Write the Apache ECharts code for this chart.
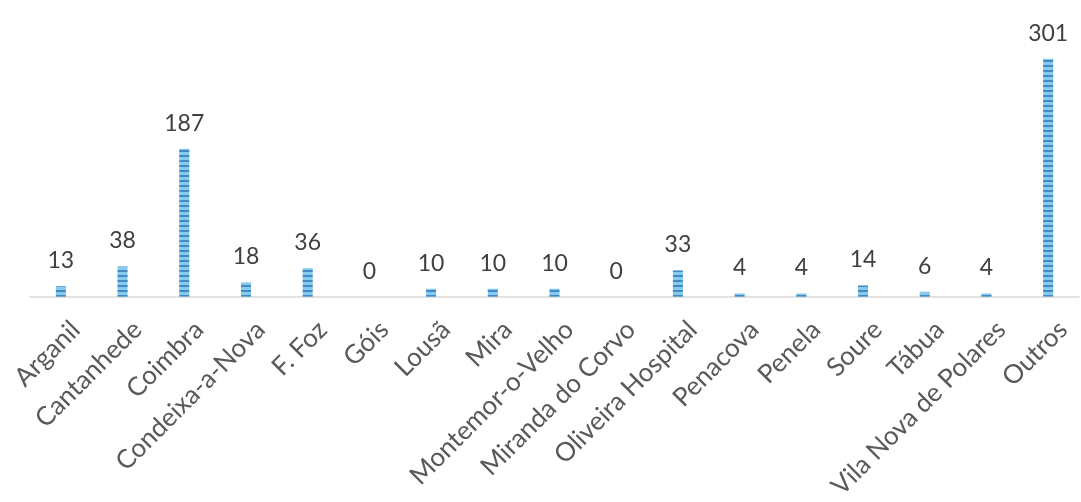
<!DOCTYPE html>
<html>
<head>
<meta charset="utf-8">
<script src="https://cdn.jsdelivr.net/npm/echarts@6/dist/echarts.min.js"></script>
<style>
  html, body { margin: 0; padding: 0; background: #fff; }
  #chart { width: 1081px; height: 502px; }
</style>
</head>
<body>
<div id="chart"></div>
<script>
// Municipalities (concelhos) and their counts
const categories = [
  'Arganil', 'Cantanhede', 'Coimbra', 'Condeixa-a-Nova', 'F. Foz', 'Góis',
  'Lousã', 'Mira', 'Montemor-o-Velho', 'Miranda do Corvo', 'Oliveira Hospital',
  'Penacova', 'Penela', 'Soure', 'Tábua', 'Vila Nova de Polares', 'Outros'
];
const values = [13, 38, 187, 18, 36, 0, 10, 10, 10, 0, 33, 4, 4, 14, 6, 4, 301];

const chart = echarts.init(document.getElementById('chart'), null, { renderer: 'canvas' });

chart.setOption({
  animation: false,
  grid: { left: 30, right: 2, top: 20, bottom: 200 },
  xAxis: {
    type: 'category',
    data: categories,
    axisLine: { show: true, lineStyle: { color: '#d9d9d9', width: 1.5 } },
    axisTick: { show: false },
    axisLabel: {
      interval: 0,
      rotate: 45,
      margin: 14,
      verticalAlign: 'top',
      padding: [8, 0, 0, 0],
      color: '#595959',
      fontFamily: 'Lato',
      fontSize: 26
    }
  },
  yAxis: {
    type: 'value',
    min: 0,
    max: 350,
    show: false,
    splitLine: { show: false }
  },
  series: [{
    type: 'bar',
    data: values,
    barWidth: 10,
    itemStyle: {
      color: '#86cbee',
      decal: {
        symbol: 'rect',
        color: 'rgba(40, 110, 175, 0.7)',
        dashArrayX: [1, 0],
        dashArrayY: [2, 3],
        rotation: 0
      }
    },
    label: {
      show: true,
      position: 'top',
      distance: 14,
      color: '#404040',
      fontFamily: 'Lato',
      fontSize: 23
    }
  }]
});
</script>
</body>
</html>
